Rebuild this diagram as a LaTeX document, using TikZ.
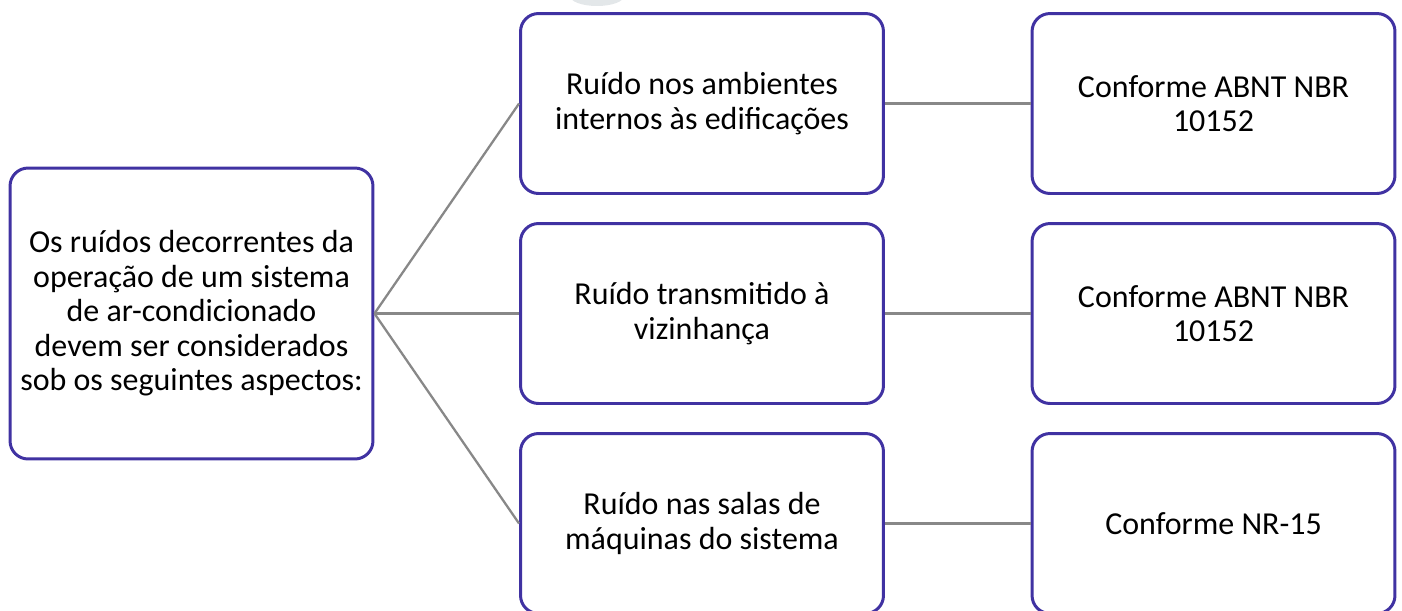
\documentclass[tikz,border=0pt]{standalone}
\usepackage{fontspec}
\setmainfont{Carlito}
\usepackage{xcolor}
\usepackage{tikz}
\usetikzlibrary{positioning}
\definecolor{bordas}{RGB}{64,50,162}
\definecolor{ligacao}{RGB}{136,136,136}
\definecolor{sombra}{RGB}{227,231,233}
\tikzset{
	caixa/.style={draw=bordas,line width=1.7pt,rounded corners=0.36cm,fill=white,
		align=center,inner sep=2pt,font=\fontsize{18.2}{19.6}\selectfont,
		minimum width=7.26cm,minimum height=3.6cm},
	ligar/.style={draw=ligacao,line width=1.3pt}
}

\begin{document}
\begin{tikzpicture}[x=0.02cm,y=-0.02cm]
	\def\colA{191.5}
	\def\colB{702}
	\def\colC{1213.5}
\clip (0,0) rectangle (1402,610); % recorte da figura

%Mancha no topo
\fill[sombra] (597,-4) ellipse [x radius=27,y radius=10];

%Caixa de partida
\node[caixa,minimum height=5.82cm] (origem) at (\colA,313.5)
	{Os ruídos decorrentes da\\operação de um sistema\\de ar-condicionado\\devem ser considerados\\sob os seguintes aspectos:};

%Aspectos
\node[caixa] (internos) at (\colB,103.5) {Ruído nos ambientes\\internos às edificações};
\node[caixa] (vizinhanca) at (\colB,313.5) {Ruído transmitido à\\vizinhança};
\node[caixa] (maquinas) at (\colB,523.5) {Ruído nas salas de\\máquinas do sistema};

%Normas
\node[caixa] (normaA) at (\colC,103.5) {Conforme ABNT NBR\\10152};
\node[caixa] (normaB) at (\colC,313.5) {Conforme ABNT NBR\\10152};
\node[caixa] (normaC) at (\colC,523.5) {Conforme NR-15};

%Ligacoes
\draw[ligar] (origem.east) -- (internos.west);
\draw[ligar] (origem.east) -- (vizinhanca.west);
\draw[ligar] (origem.east) -- (maquinas.west);
\draw[ligar] (internos.east) -- (normaA.west);
\draw[ligar] (vizinhanca.east) -- (normaB.west);
\draw[ligar] (maquinas.east) -- (normaC.west);

\end{tikzpicture}
\end{document}
